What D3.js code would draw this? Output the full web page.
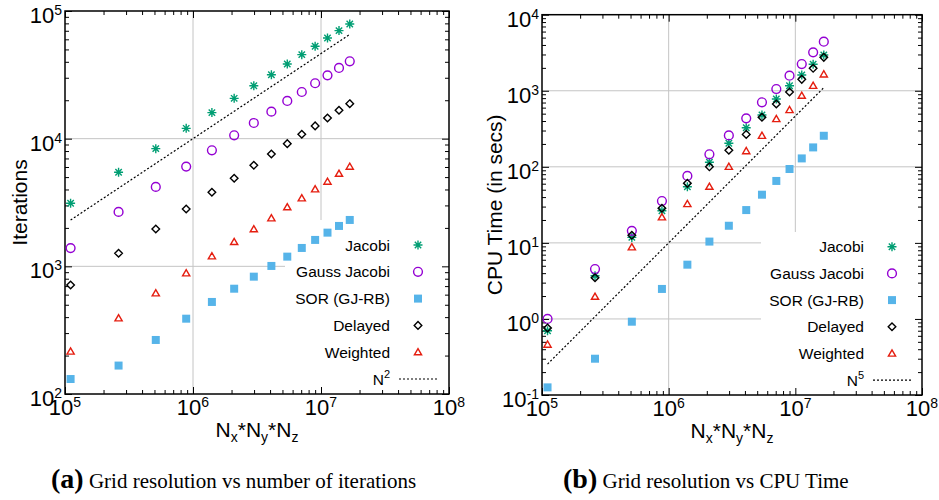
<!DOCTYPE html>
<html>
<head>
<meta charset="utf-8">
<script src="https://cdn.jsdelivr.net/npm/d3@7"></script>
<style>
  body { margin: 0; background: #fff; }
  text { font-family: "Liberation Sans", Arial, Helvetica, sans-serif; fill: #000; }
  .cap { font-family: "Liberation Serif", "Times New Roman", serif; }
</style>
</head>
<body>
<svg id="chart" width="939" height="500"></svg>
<script>
// grid sizes (Nx*Ny*Nz), same for both panels
const gridN = [110592, 262144, 512000, 884736, 1404928, 2097152, 2985984,
  4096000, 5451776, 7077888, 8998912, 11239424, 13824000, 16777216];

// panel (a): iterations
const itJacobi = [3120, 5460, 8350, 12050, 16000, 20700, 26000, 31700, 38400, 45500, 52900, 61500, 70200, 79100];
const itGauss = [1390, 2670, 4190, 6040, 8110, 10630, 13270, 16280, 19740, 23210, 27160, 31340, 35790, 40350];
const itSOR = [131, 167, 265, 389, 526, 668, 830, 1007, 1191, 1393, 1610, 1836, 2072, 2308];
const itDelayed = [715, 1265, 1963, 2813, 3800, 4900, 6190, 7590, 9140, 10820, 12590, 14530, 16680, 18800];
const itWeighted = [215, 392, 615, 883, 1199, 1552, 1953, 2378, 2904, 3412, 4016, 4605, 5318, 6036];
const itRefX = [110592, 16777216];
const itRefY = [2304, 65536];

// panel (b): CPU time in seconds
const cpuJacobi = [0.70, 3.7, 11.8, 26.5, 54.8, 115, 204, 327, 480, 778, 1164, 1610, 2227, 2950];
const cpuGauss = [1.0, 4.53, 14.4, 35.5, 75.9, 146, 259, 434, 705, 1054, 1577, 2246, 3200, 4415];
const cpuSOR = [0.126, 0.30, 0.92, 2.48, 5.17, 10.4, 16.8, 27.0, 43.0, 65.2, 93.6, 129, 180, 256];
const cpuDelayed = [0.76, 3.48, 12.6, 28.5, 60.6, 100, 165, 267, 448, 670, 962, 1413, 1972, 2750];
const cpuWeighted = [0.46, 1.96, 8.75, 21.7, 32.4, 54.8, 100, 161, 256, 425, 558, 861, 1164, 1644];
const cpuRefX = [110592, 16777216];
const cpuRefY = [0.2548, 1099.5];

const seriesNames = ['Jacobi', 'Gauss Jacobi', 'SOR (GJ-RB)', 'Delayed', 'Weighted'];
const xDecades = [5, 6, 7, 8];
const itDecades = [2, 3, 4, 5];
const cpuDecades = [-1, 0, 1, 2, 3, 4];

const styles = [
  { shape: 'asterisk', color: '#009e73' },
  { shape: 'circle', color: '#9400d3' },
  { shape: 'square', color: '#56b4e9' },
  { shape: 'diamond', color: '#000000' },
  { shape: 'triangle', color: '#e51e10' },
];

const shapes = {
  asterisk: 'M-4.5,0H4.5M0,-4.5V4.5M-3.2,-3.2L3.2,3.2M-3.2,3.2L3.2,-3.2',
  circle: 'M4.4,0A4.4,4.4 0 1,1 -4.4,0A4.4,4.4 0 1,1 4.4,0Z',
  square: 'M-4,-4h8v8h-8z',
  diamond: 'M0,-3.8L3.8,0L0,3.8L-3.8,0Z',
  triangle: 'M-3.6,2.6L3.6,2.6L0,-3.6Z',
};

const svg = d3.select('#chart');

function drawPanel(p) {
  const x = d3.scaleLog().domain([1e5, 1e8]).range([p.left, p.right]);
  const y = d3.scaleLog().domain(p.yDomain).range([p.bottom, p.top]);
  const g = svg.append('g');

  const xMajor = xDecades.map(e => Math.pow(10, e));
  const yMajor = p.yDecades.map(e => Math.pow(10, e));
  const minorOf = decs => {
    const out = [];
    decs.slice(0, -1).forEach(e => {
      for (let k = 2; k <= 9; k++) out.push(k * Math.pow(10, e));
    });
    return out;
  };

  // grid
  g.append('g').selectAll('line.gx')
    .data(xMajor.slice(1, -1))
    .join('line')
    .attr('x1', d => x(d)).attr('x2', d => x(d))
    .attr('y1', p.top).attr('y2', p.bottom)
    .attr('stroke', '#c4c4c4').attr('stroke-width', 1);
  g.append('g').selectAll('line.gy')
    .data(yMajor.slice(1, -1))
    .join('line')
    .attr('x1', p.left).attr('x2', p.right)
    .attr('y1', d => y(d)).attr('y2', d => y(d))
    .attr('stroke', '#c4c4c4').attr('stroke-width', 1);

  // opaque key box
  g.append('rect')
    .attr('x', p.key.boxX).attr('y', p.key.boxY)
    .attr('width', p.right - p.key.boxX).attr('height', p.bottom - p.key.boxY)
    .attr('fill', '#fff');

  // ticks, mirrored on all sides
  const tickSets = [
    [d3.axisBottom(x), p.bottom, 'x'], [d3.axisTop(x), p.top, 'x'],
    [d3.axisLeft(y), p.left, 'y'], [d3.axisRight(y), p.right, 'y'],
  ];
  tickSets.forEach(([axis, pos, dim]) => {
    const major = dim === 'x' ? xMajor : yMajor;
    const minor = dim === 'x' ? minorOf(xDecades) : minorOf(p.yDecades);
    [[major, -7], [minor, -4]].forEach(([vals, size]) => {
      const a = g.append('g')
        .attr('transform', dim === 'x' ? `translate(0,${pos})` : `translate(${pos},0)`)
        .call(axis.tickValues(vals).tickSize(size).tickFormat(''));
      a.select('.domain').remove();
      a.selectAll('line').attr('stroke', '#000').attr('stroke-width', 1);
    });
  });

  // frame
  g.append('rect')
    .attr('x', p.left).attr('y', p.top)
    .attr('width', p.right - p.left).attr('height', p.bottom - p.top)
    .attr('fill', 'none').attr('stroke', '#000').attr('stroke-width', 1.5);

  // tick labels
  const xl = g.append('g').selectAll('text')
    .data(xDecades)
    .join('text')
    .attr('x', d => x(Math.pow(10, d)))
    .attr('y', p.bottom + 21)
    .attr('text-anchor', 'middle')
    .style('font-size', '22px');
  xl.append('tspan').text('10');
  xl.append('tspan').attr('dy', -8).style('font-size', '14px').text(d => d);

  const yl = g.append('g').selectAll('text')
    .data(p.yDecades)
    .join('text')
    .attr('x', p.left - 3)
    .attr('y', d => y(Math.pow(10, d)) + 12)
    .attr('text-anchor', 'end')
    .style('font-size', '22px');
  yl.append('tspan').text('10');
  yl.append('tspan').attr('dy', -8).style('font-size', '14px').text(d => d);

  // axis titles
  const xt = g.append('text')
    .attr('x', (p.left + p.right) / 2).attr('y', p.bottom + 43)
    .attr('text-anchor', 'middle').style('font-size', '21px');
  ['x', 'y', 'z'].forEach((s, i) => {
    xt.append('tspan').attr('dy', i === 0 ? 0 : -5).text(i === 0 ? 'N' : '*N');
    xt.append('tspan').attr('dy', 5).style('font-size', '14px').text(s);
  });

  g.append('text')
    .attr('transform', `translate(${p.yTitleX},${(p.top + p.bottom) / 2}) rotate(-90)`)
    .attr('text-anchor', 'middle').style('font-size', '21px')
    .text(p.yTitle);

  // reference power-law line
  g.append('path')
    .attr('d', d3.line().x(d => x(d[0])).y(d => y(d[1]))(d3.zip(p.refX, p.refY)))
    .attr('fill', 'none').attr('stroke', '#000').attr('stroke-width', 1.2)
    .attr('stroke-dasharray', '2,2');

  // data points
  p.series.forEach((vals, si) => {
    const st = styles[si];
    const filled = st.shape === 'square';
    g.append('g').selectAll('path')
      .data(vals)
      .join('path')
      .attr('transform', (d, i) => `translate(${x(gridN[i])},${y(d)})`)
      .attr('d', shapes[st.shape])
      .attr('fill', filled ? st.color : 'none')
      .attr('stroke', filled ? 'none' : st.color)
      .attr('stroke-width', 1.4);
  });

  // key
  const k = p.key;
  seriesNames.forEach((name, i) => {
    const ry = k.rowY + i * k.step;
    g.append('text')
      .attr('x', k.textX).attr('y', ry + 5.5)
      .attr('text-anchor', 'end').style('font-size', '15.5px')
      .text(name);
    const st = styles[i];
    const filled = st.shape === 'square';
    g.append('path')
      .attr('transform', `translate(${k.symX},${ry})`)
      .attr('d', shapes[st.shape])
      .attr('fill', filled ? st.color : 'none')
      .attr('stroke', filled ? 'none' : st.color)
      .attr('stroke-width', 1.4);
  });
  const ry = k.rowY + 5 * k.step;
  const rt = g.append('text')
    .attr('x', k.textX).attr('y', ry + 5.5)
    .attr('text-anchor', 'end').style('font-size', '15.5px');
  rt.append('tspan').text('N');
  rt.append('tspan').attr('dy', -7).style('font-size', '11px').text(p.refExp);
  g.append('line')
    .attr('x1', k.textX + 9).attr('x2', k.textX + 47)
    .attr('y1', ry).attr('y2', ry)
    .attr('stroke', '#000').attr('stroke-width', 1.2).attr('stroke-dasharray', '2,2');

  // caption
  const cap = svg.append('text').attr('class', 'cap')
    .attr('x', p.capX).attr('y', 488);
  cap.append('tspan').attr('class', 'cap')
    .style('font-weight', 'bold').style('font-size', '28px').text(p.capTag);
  cap.append('tspan').attr('class', 'cap')
    .style('font-size', '21px').text(' ' + p.capText);
}

drawPanel({
  left: 65, right: 449, top: 11, bottom: 394,
  yDomain: [1e2, 1e5], yDecades: itDecades,
  series: [itJacobi, itGauss, itSOR, itDelayed, itWeighted],
  refX: itRefX, refY: itRefY, refExp: '2',
  yTitle: 'Iterations', yTitleX: 27,
  key: { boxX: 285, boxY: 220, textX: 390, symX: 418, rowY: 245, step: 26.8 },
  capX: 51, capTag: '(a)', capText: 'Grid resolution vs number of iterations',
});

drawPanel({
  left: 542, right: 922, top: 14.7, bottom: 395,
  yDomain: [1e-1, 1e4], yDecades: cpuDecades,
  series: [cpuJacobi, cpuGauss, cpuSOR, cpuDelayed, cpuWeighted],
  refX: cpuRefX, refY: cpuRefY, refExp: '5',
  yTitle: 'CPU Time (in secs)', yTitleX: 502,
  key: { boxX: 761, boxY: 232, textX: 864, symX: 892, rowY: 246.7, step: 26.7 },
  capX: 563, capTag: '(b)', capText: 'Grid resolution vs CPU Time',
});
</script>
</body>
</html>
